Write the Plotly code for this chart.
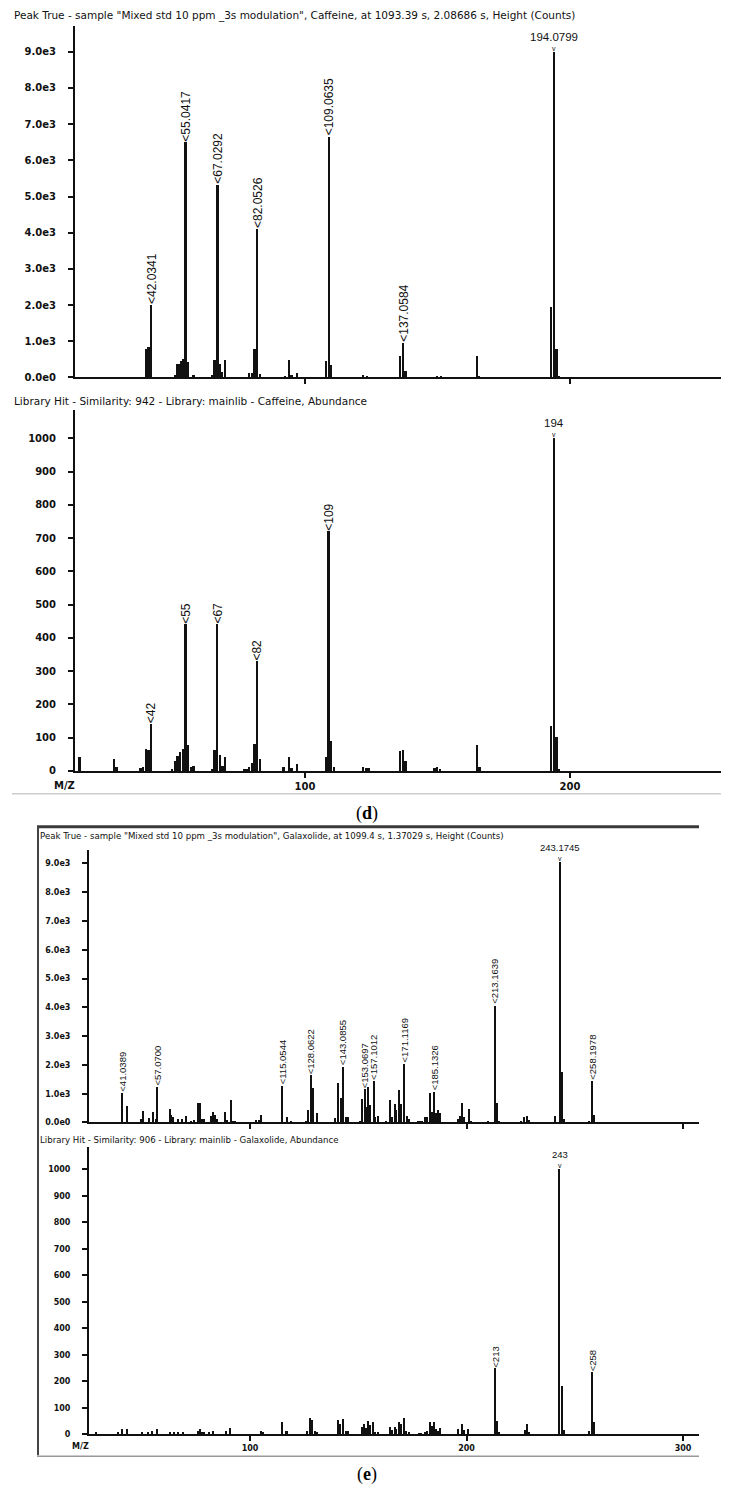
import plotly.graph_objects as go

W, H = 731, 1497

# ---------------- DATA ----------------
# (d) Caffeine - Peak True (Height, counts)
caf_true_mz = [40, 41, 42.0341, 51, 52, 52.6, 53.3, 54, 55.0417, 56, 58,
               65, 66, 67.0292, 68, 68.7, 70, 79, 80, 81, 82.0526, 83,
               92.5, 94, 95, 97, 108, 109.0635, 110, 122, 123.5,
               136, 137.0584, 138, 150, 151.5, 165, 165.7,
               193, 194.0799, 195, 196]
caf_true_int = [800, 850, 2000, 60, 380, 365, 450, 520, 6500, 430, 80,
                60, 475, 5330, 380, 160, 475, 135, 120, 800, 4100, 100,
                40, 480, 60, 140, 470, 6650, 350, 60, 35,
                585, 950, 180, 50, 50, 610, 30,
                1950, 9000, 800, 30]
caf_true_rot_labels = ["42.0341", "55.0417", "67.0292", "82.0526", "109.0635", "137.0584"]
caf_true_top_label = "194.0799"

# (d) Caffeine - Library hit (Abundance)
caf_lib_mz = [15, 28, 29, 38, 39, 40, 41, 42, 50, 51, 52, 53, 54, 55, 56, 57, 58,
              65, 66, 67, 68, 69, 70, 77, 78, 79, 80, 81, 82, 83,
              92, 94, 95, 97, 108, 109, 110, 111, 122, 123, 124,
              136, 137, 138, 149, 150, 151, 165, 166, 193, 194, 195, 196]
caf_lib_int = [40, 36, 10, 8, 12, 64, 62, 140, 5, 30, 45, 55, 65, 440, 78, 12, 15,
               5, 62, 440, 48, 15, 40, 3, 5, 10, 22, 80, 328, 35,
               10, 42, 8, 20, 40, 720, 90, 12, 12, 7, 7,
               60, 62, 28, 8, 12, 4, 77, 10, 134, 1000, 102, 4]
caf_lib_rot_labels = ["42", "55", "67", "82", "109"]
caf_lib_top_label = "194"

# (e) Galaxolide - Peak True (Height, counts)
gal_true_mz = [41.0389, 43.0, 49.5, 50.4, 53.2, 55.1, 56.4, 57.07, 62.9, 63.7, 64.7,
               66.9, 68.7, 70.7, 73.0, 74.0, 75.8, 76.9, 78.0, 79.0, 81.8, 82.9,
               83.8, 84.8, 88.6, 89.5, 91.1, 92.2, 93.0, 101.0, 103.0, 104.0, 105.1,
               115.0544, 117.2, 118.8, 125.9, 126.9, 128.0622, 129.0, 130.8,
               139.3, 140.8, 141.9, 143.0855, 144.3, 145.2, 150.8, 151.6,
               153.0697, 153.8, 154.7, 155.6, 157.1012, 157.7, 159.0,
               163.1, 164.7, 165.7, 166.8, 167.7, 168.8, 169.9, 171.1169, 172.5, 173.4,
               177.8, 178.5, 179.3, 180.8, 181.9, 183.0, 184.1, 185.1326, 185.9,
               186.9, 187.9, 196.2, 197.0, 197.9, 199.0, 201.3, 202.2, 210.1,
               213.1639, 214.1, 215.0, 225.2, 226.7, 227.8, 228.9, 240.9,
               243.1745, 244.0, 245.0, 256.7, 258.1978, 259.0]
gal_true_int = [1050, 590, 130, 420, 185, 395, 120, 1250, 470, 260, 220,
                130, 150, 240, 60, 100, 700, 700, 130, 150, 240, 395,
                260, 130, 380, 100, 785, 50, 40, 30, 90, 90, 265,
                1280, 205, 70, 80, 450, 1650, 1200, 345,
                160, 1370, 865, 1950, 205, 205, 60, 820,
                1165, 565, 1255, 610, 1450, 200, 225,
                55, 785, 190, 670, 450, 1130, 640, 2050, 240, 130,
                80, 80, 80, 190, 190, 1050, 395, 1075, 360,
                450, 360, 130, 240, 700, 190, 470, 40, 60,
                4070, 680, 60, 50, 205, 240, 110, 230,
                9050, 1765, 150, 60, 1450, 280]
gal_true_rot_labels = ["41.0389", "57.0700", "115.0544", "128.0622", "143.0855",
                       "153.0697", "157.1012", "171.1169", "185.1326", "213.1639", "258.1978"]
gal_true_top_label = "243.1745"

# (e) Galaxolide - Library hit (Abundance)
gal_lib_mz = [29, 39, 41, 43, 50, 53, 55, 57, 63, 65, 67, 69, 76, 77, 78, 79, 81, 83,
              89, 91, 105, 106, 115, 116.5, 117.2, 126.6, 127.7, 128.6, 130, 131,
              140.6, 141.7, 142.8, 144.5, 145.5, 151.6, 152.7, 153.7, 154.7, 155.7,
              156.9, 158, 159, 164.7, 165.7, 166.8, 167.7, 168.8, 169.9, 171, 172.3,
              173.4, 178, 179, 180.8, 181.9, 183, 184.1, 185, 185.9, 186.9, 187.9,
              196.3, 197.9, 199, 200.8, 213, 214, 215, 227, 227.8, 228.9,
              243, 244, 245, 256.7, 258, 259]
gal_lib_int = [5, 5, 20, 20, 5, 5, 10, 18, 5, 5, 5, 5, 12, 20, 5, 5, 5, 9,
               12, 22, 9, 5, 46, 10, 10, 12, 58, 52, 12, 8,
               52, 38, 57, 10, 10, 25, 38, 22, 50, 35,
               43, 5, 5, 24, 15, 25, 19, 45, 38, 60, 12,
               5, 3, 3, 5, 10, 44, 28, 45, 19, 10, 22,
               19, 38, 15, 19, 248, 48, 5, 15, 37, 5,
               1000, 179, 15, 10, 232, 45]
gal_lib_rot_labels = ["213", "258"]
gal_lib_top_label = "243"

titles = [
    'Peak True - sample "Mixed std 10 ppm _3s modulation", Caffeine, at 1093.39 s, 2.08686 s, Height (Counts)',
    'Library Hit - Similarity: 942 - Library: mainlib - Caffeine, Abundance',
    'Peak True - sample "Mixed std 10 ppm _3s modulation", Galaxolide, at 1099.4 s, 1.37029 s, Height (Counts)',
    'Library Hit - Similarity: 906 - Library: mainlib - Galaxolide, Abundance',
]
sci_ticks = [0, 1000, 2000, 3000, 4000, 5000, 6000, 7000, 8000, 9000]
sci_text = ["0.0e0", "1.0e3", "2.0e3", "3.0e3", "4.0e3", "5.0e3", "6.0e3", "7.0e3", "8.0e3", "9.0e3"]
lib_ticks = [0, 100, 200, 300, 400, 500, 600, 700, 800, 900, 1000]

# ---------------- LAYOUT HELPERS ----------------
def fx(p):
    return p / W

def fy(p):
    return 1 - p / H

INK = "#111111"

panels = [
    dict(mz=caf_true_mz, it=caf_true_int, rot=caf_true_rot_labels, top=caf_true_top_label,
         xd=(75, 721), yd=(379, 26), xr=[13.2, 257.0], yr=[0, 9716], ticks=(sci_ticks, sci_text),
         xlab=False, tx=12, ty=16, tfs=10.5, lfs=12, hfs=11.5, tickfs=10, bw=0.7, xlfs=10),
    dict(mz=caf_lib_mz, it=caf_lib_int, rot=caf_lib_rot_labels, top=caf_lib_top_label,
         xd=(75, 721), yd=(774, 412), xr=[13.2, 257.0], yr=[0, 1084],
         ticks=(lib_ticks, [str(v) for v in lib_ticks]),
         xlab=True, tx=12, ty=403, tfs=10.5, lfs=12, hfs=11.5, tickfs=10, bw=0.7, xlfs=10),
    dict(mz=gal_true_mz, it=gal_true_int, rot=gal_true_rot_labels, top=gal_true_top_label,
         xd=(89, 699), yd=(1127, 853), xr=[25.6, 307.4], yr=[0, 9480], ticks=(sci_ticks, sci_text),
         xlab=False, tx=38, ty=839, tfs=8.6, lfs=9.5, hfs=9.5, tickfs=8, bw=0.6, xlfs=8),
    dict(mz=gal_lib_mz, it=gal_lib_int, rot=gal_lib_rot_labels, top=gal_lib_top_label,
         xd=(89, 699), yd=(1440, 1152), xr=[25.6, 307.4], yr=[0, 1083],
         ticks=(lib_ticks, [str(v) for v in lib_ticks]),
         xlab=True, tx=38, ty=1145, tfs=8.6, lfs=9.5, hfs=9.5, tickfs=8, bw=0.6, xlfs=8),
]

fig = go.Figure()
annotations = []
layout = {}

for i, p in enumerate(panels):
    n = "" if i == 0 else str(i + 1)
    xref, yref = "x" + n, "y" + n
    fig.add_trace(go.Bar(
        x=p["mz"], y=p["it"], width=p["bw"], xaxis=xref, yaxis=yref,
        marker=dict(color=INK, line=dict(width=0)), showlegend=False, hoverinfo="x+y",
    ))
    xt = [100, 200] if p["xr"][1] < 300 else [100, 200, 300]
    layout["xaxis" + n] = dict(
        domain=[fx(p["xd"][0]), fx(p["xd"][1])], range=p["xr"], anchor=yref,
        showline=True, linecolor=INK, linewidth=2, showgrid=False, zeroline=False,
        ticks="outside", ticklen=5, tickwidth=2, tickcolor=INK,
        tickvals=xt, ticktext=[str(v) for v in xt], showticklabels=p["xlab"],
        tickfont=dict(family="DejaVu Sans", size=p["xlfs"], color=INK, weight="bold"),
        fixedrange=True,
    )
    layout["yaxis" + n] = dict(
        domain=[fy(p["yd"][0]), fy(p["yd"][1])], range=p["yr"], anchor=xref,
        showline=True, linecolor=INK, linewidth=2, showgrid=False, zeroline=False,
        ticks="outside", ticklen=5, tickwidth=2, tickcolor=INK,
        tickvals=p["ticks"][0], ticktext=p["ticks"][1], ticklabelstandoff=10,
        tickfont=dict(family="DejaVu Sans", size=p["tickfs"], color=INK, weight="bold"),
        fixedrange=True,
    )
    # panel title
    annotations.append(dict(
        text=titles[i], x=fx(p["tx"]), y=fy(p["ty"]), xref="paper", yref="paper",
        xanchor="left", yanchor="middle", showarrow=False,
        font=dict(family="DejaVu Sans", size=p["tfs"], color=INK),
    ))
    # rotated peak labels
    for lab in p["rot"]:
        target = float(lab)
        j = min(range(len(p["mz"])), key=lambda k: abs(p["mz"][k] - target))
        annotations.append(dict(
            text="&lt;" + lab, x=p["mz"][j], y=p["it"][j], xref=xref, yref=yref,
            xanchor="center", yanchor="bottom", textangle=-90, showarrow=False,
            font=dict(family="Liberation Sans", size=p["lfs"], color=INK),
            borderpad=0, yshift=0,
        ))
    # base-peak label (horizontal, with caret)
    target = float(p["top"])
    j = min(range(len(p["mz"])), key=lambda k: abs(p["mz"][k] - target))
    annotations.append(dict(
        text=p["top"], x=p["mz"][j], y=p["it"][j], xref=xref, yref=yref,
        xanchor="center", yanchor="bottom", showarrow=False, yshift=8,
        font=dict(family="Liberation Sans", size=p["hfs"], color=INK), borderpad=0,
    ))
    annotations.append(dict(
        text="v", x=p["mz"][j], y=p["it"][j], xref=xref, yref=yref,
        xanchor="center", yanchor="bottom", showarrow=False, yshift=-1,
        font=dict(family="Liberation Sans", size=7, color=INK), borderpad=0,
    ))

# M/Z labels
annotations.append(dict(text="M/Z", x=fx(64), y=fy(789), xref="paper", yref="paper",
                        showarrow=False, xanchor="center", yanchor="middle",
                        font=dict(family="DejaVu Sans", size=10, color=INK, weight="bold")))
annotations.append(dict(text="M/Z", x=fx(80), y=fy(1452), xref="paper", yref="paper",
                        showarrow=False, xanchor="center", yanchor="middle",
                        font=dict(family="DejaVu Sans", size=8, color=INK, weight="bold")))
# panel letters
annotations.append(dict(text="(<b>d</b>)", x=fx(367), y=fy(817), xref="paper", yref="paper",
                        showarrow=False, xanchor="center", yanchor="middle",
                        font=dict(family="Liberation Serif", size=18, color="#000")))
annotations.append(dict(text="(<b>e</b>)", x=fx(367), y=fy(1480), xref="paper", yref="paper",
                        showarrow=False, xanchor="center", yanchor="middle",
                        font=dict(family="Liberation Serif", size=18, color="#000")))

shapes = [
    dict(type="line", xref="paper", yref="paper", x0=fx(12), x1=fx(721), y0=fy(797), y1=fy(797),
         line=dict(color="#cccccc", width=1.5)),
    dict(type="line", xref="paper", yref="paper", x0=fx(37), x1=fx(699), y0=fy(830), y1=fy(830),
         line=dict(color="#3a3a3a", width=3)),
    dict(type="line", xref="paper", yref="paper", x0=fx(38), x1=fx(38), y0=fy(830), y1=fy(1461),
         line=dict(color="#444444", width=2)),
    dict(type="line", xref="paper", yref="paper", x0=fx(37), x1=fx(699), y0=fy(1462), y1=fy(1462),
         line=dict(color="#999999", width=1.5)),
]

fig.update_layout(
    width=W, height=H, margin=dict(l=0, r=0, t=0, b=0),
    paper_bgcolor="white", plot_bgcolor="white",
    annotations=annotations, shapes=shapes, bargap=0, showlegend=False,
    **layout,
)

fig.write_html("out.html", config={"displayModeBar": False},
               post_script="document.body.style.margin='0px';document.body.style.overflow='hidden';")
